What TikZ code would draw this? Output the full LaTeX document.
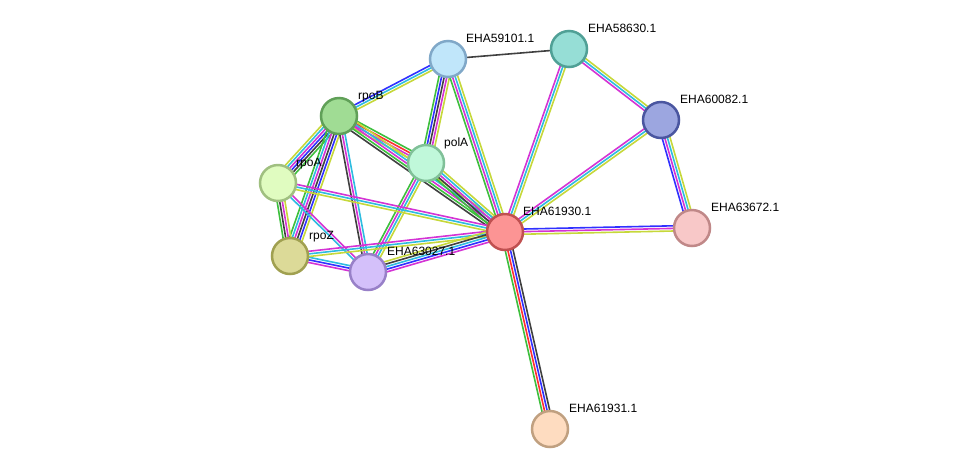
\documentclass[tikz,border=0pt]{standalone}
\usepackage{fontspec}
\setmainfont{Liberation Sans}
\usetikzlibrary{calc,backgrounds}
\definecolor{gre}{HTML}{3DBF3D}
\definecolor{blu}{HTML}{3030FF}
\definecolor{cya}{HTML}{2EBCE0}
\definecolor{mag}{HTML}{D433D4}
\definecolor{yel}{HTML}{C6D83A}
\definecolor{drk}{HTML}{404040}
\definecolor{rd}{HTML}{FF3030}
% fill / border of each protein
\definecolor{f59101}{HTML}{C0E6FA}\definecolor{d59101}{HTML}{80A8C8}
\definecolor{f58630}{HTML}{96DED6}\definecolor{d58630}{HTML}{50A096}
\definecolor{f60082}{HTML}{9CA6E0}\definecolor{d60082}{HTML}{4A56A0}
\definecolor{f63672}{HTML}{F8C8C8}\definecolor{d63672}{HTML}{C08888}
\definecolor{f61930}{HTML}{FC9494}\definecolor{d61930}{HTML}{C05050}
\definecolor{f61931}{HTML}{FEDCC0}\definecolor{d61931}{HTML}{C0A080}
\definecolor{frpoB}{HTML}{A0DC94}\definecolor{drpoB}{HTML}{60A058}
\definecolor{fpolA}{HTML}{C0F8DA}\definecolor{dpolA}{HTML}{80C098}
\definecolor{frpoA}{HTML}{E0FCC0}\definecolor{drpoA}{HTML}{A0C080}
\definecolor{frpoZ}{HTML}{DCDA98}\definecolor{drpoZ}{HTML}{A0A050}
\definecolor{f63027}{HTML}{D4C0FA}\definecolor{d63027}{HTML}{9880C8}
% several coloured lines side by side between two proteins
\newcommand{\links}[4]{%
  \foreach \c [count=\i] in {#4} {%
    \pgfmathsetmacro{\o}{(\i-(#3+1)/2)*2.6}
    \draw[\c,line width=1.6pt] ($(#1)!\o pt!90:(#2)$) -- ($(#2)!\o pt!-90:(#1)$);
  }}
\begin{document}
\begin{tikzpicture}[x=1pt,y=-1pt]
        %
        % `prot' is used for the proteins, `lbl' for their names.
        \tikzstyle{prot} = [circle,minimum size=36pt,inner sep=0pt,line width=2.5pt]
        \tikzstyle{lbl} = [anchor=base west,inner sep=0pt,font=\fontsize{12}{14}\selectfont]
        \useasboundingbox (0,0) rectangle (975,475);
        %
        % Proteins
        \node[prot,fill=f59101,draw=d59101] (p59101) at (448,59) {};
        \node[prot,fill=f58630,draw=d58630] (p58630) at (569,49) {};
        \node[prot,fill=f60082,draw=d60082] (p60082) at (661,120) {};
        \node[prot,fill=f63672,draw=d63672] (p63672) at (692,228) {};
        \node[prot,fill=f61930,draw=d61930] (p61930) at (505,232) {};
        \node[prot,fill=f61931,draw=d61931] (p61931) at (550,429) {};
        \node[prot,fill=frpoB,draw=drpoB] (rpoB) at (339,116) {};
        \node[prot,fill=fpolA,draw=dpolA] (polA) at (426,163) {};
        \node[prot,fill=frpoA,draw=drpoA] (rpoA) at (278,183) {};
        \node[prot,fill=frpoZ,draw=drpoZ] (rpoZ) at (290,256) {};
        \node[prot,fill=f63027,draw=d63027] (p63027) at (368,272) {};
        %
        % Names
        \node[lbl] (l59101) at ([shift={(18,-17)}]p59101.center) {EHA59101.1};
        \node[lbl] (l58630) at ([shift={(19,-17)}]p58630.center) {EHA58630.1};
        \node[lbl] (l60082) at ([shift={(19,-17)}]p60082.center) {EHA60082.1};
        \node[lbl] (l63672) at ([shift={(19,-17)}]p63672.center) {EHA63672.1};
        \node[lbl] (l61930) at ([shift={(18,-17)}]p61930.center) {EHA61930.1};
        \node[lbl] (l61931) at ([shift={(19,-17)}]p61931.center) {EHA61931.1};
        \node[lbl] (lrpoB) at ([shift={(19,-17)}]rpoB.center) {rpoB};
        \node[lbl] (lpolA) at ([shift={(18,-17)}]polA.center) {polA};
        \node[lbl] (lrpoA) at ([shift={(18,-17)}]rpoA.center) {rpoA};
        \node[lbl] (lrpoZ) at ([shift={(19,-17)}]rpoZ.center) {rpoZ};
        \node[lbl] (l63027) at ([shift={(19,-17)}]p63027.center) {EHA63027.1};
        %
        % Associations
        \begin{pgfonlayer}{background}
        \links{p59101}{p58630}{1}{drk}
        \links{p59101}{rpoB}{3}{blu,cya,yel}
        \links{p59101}{polA}{5}{gre,blu,drk,mag,yel}
        \links{p59101}{p61930}{4}{gre,mag,cya,yel}
        \links{p58630}{p61930}{3}{mag,cya,yel}
        \links{p58630}{p60082}{3}{mag,cya,yel}
        \links{p60082}{p61930}{3}{mag,cya,yel}
        \links{p60082}{p63672}{4}{blu,mag,cya,yel}
        \links{p61930}{p63672}{3}{yel,mag,blu}
        \links{p61930}{p61931}{4}{gre,rd,blu,drk}
        \links{rpoB}{polA}{4}{yel,mag,rd,gre}
        \links{rpoB}{p61930}{5}{drk,gre,mag,cya,yel}
        \links{rpoB}{rpoA}{6}{yel,cya,mag,blu,drk,gre}
        \links{rpoB}{rpoZ}{6}{gre,cya,mag,drk,blu,yel}
        \links{rpoB}{p63027}{3}{drk,mag,cya}
        \links{polA}{p61930}{5}{gre,drk,mag,cya,yel}
        \links{polA}{p63027}{4}{gre,mag,cya,yel}
        \links{rpoA}{rpoZ}{4}{gre,drk,mag,yel}
        \links{rpoA}{p63027}{2}{cya,mag}
        \links{rpoA}{p61930}{3}{yel,cya,mag}
        \links{rpoZ}{p63027}{3}{mag,blu,cya}
        \links{rpoZ}{p61930}{3}{yel,cya,mag}
        \links{p63027}{p61930}{5}{mag,blu,cya,drk,yel}
        \end{pgfonlayer}
        %
\end{tikzpicture}
\end{document}
